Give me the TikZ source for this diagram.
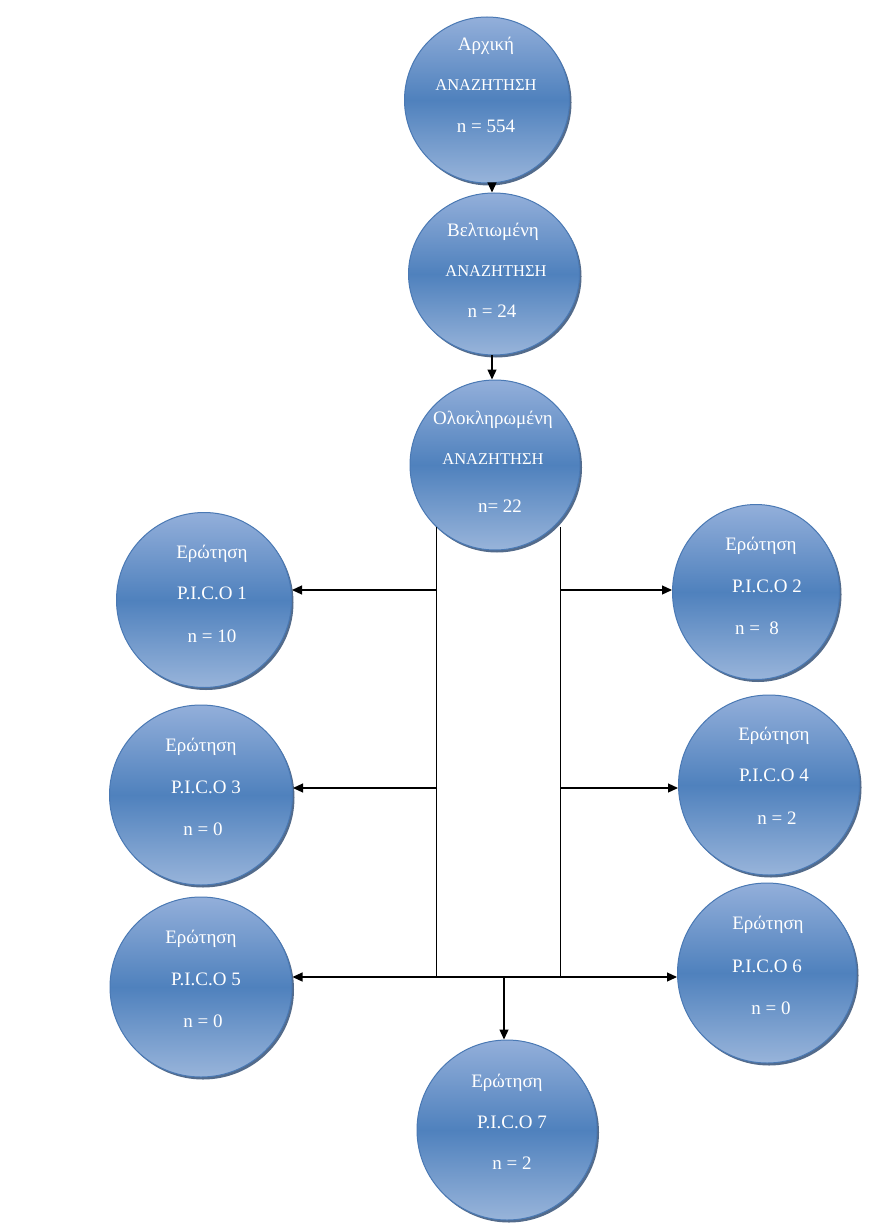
\documentclass[tikz,border=0pt]{standalone}
\usepackage{fontspec}
\setmainfont{Liberation Serif}
\usetikzlibrary{arrows.meta,shapes.geometric,shadows}
\definecolor{cTop}{RGB}{147,175,218}
\definecolor{cMid}{RGB}{79,129,189}
\definecolor{cBot}{RGB}{152,180,218}
\definecolor{cEdge}{RGB}{74,121,180}
\definecolor{cShadow}{RGB}{40,70,110}
\begin{document}
\begin{tikzpicture}[x=1pt,y=-1pt,
 bubble/.style={ellipse, draw=cEdge, line width=1pt, top color=cTop, bottom color=cBot, middle color=cMid, inner sep=0pt,
   drop shadow={shadow xshift=2pt,shadow yshift=-2.5pt,fill=cShadow,opacity=0.8}},
 txt/.style={text=white,font=\fontsize{19}{22}\selectfont, inner sep=0pt, anchor=base},
 caps/.style={text=white,font=\fontsize{16.5}{19}\selectfont, inner sep=0pt, anchor=base},
 arr/.style={line width=1.2pt,-{Triangle[length=10pt,width=9pt]}},
 stem/.style={line width=0.9pt}]
\useasboundingbox (0,0) rectangle (877,1230);
\fill[white] (0,0) rectangle (877,1230);

% bubbles
\node[bubble, minimum width=165pt, minimum height=166pt] (c1) at (487,100) {};
\node[bubble, minimum width=171pt, minimum height=162pt] (c2) at (494,274) {};
\node[bubble, minimum width=170pt, minimum height=170pt] (c3) at (495,465) {};
\node[bubble, minimum width=175pt, minimum height=175pt] (p1) at (204,600) {};
\node[bubble, minimum width=167pt, minimum height=175pt] (p2) at (756,592) {};
\node[bubble, minimum width=183pt, minimum height=180pt] (p3) at (201,795) {};
\node[bubble, minimum width=181pt, minimum height=180pt] (p4) at (769,785) {};
\node[bubble, minimum width=182pt, minimum height=180pt] (p5) at (201,987) {};
\node[bubble, minimum width=179pt, minimum height=180pt] (p6) at (767,973) {};
\node[bubble, minimum width=180pt, minimum height=180pt] (p7) at (507,1130) {};

% texts
\node[txt]  (c1a) at (486,51) {Αρχική};
\node[caps] (c1b) at (486,90.5) {ΑΝΑΖΗΤΗΣΗ};
\node[txt]  (c1c) at (486,133) {n = 554};

\node[txt]  (c2a) at (493,237) {Βελτιωμένη};
\node[caps] (c2b) at (496,276.5) {ΑΝΑΖΗΤΗΣΗ};
\node[txt]  (c2c) at (492,317) {n = 24};

\node[txt]  (c3a) at (493,424) {Ολοκληρωμένη};
\node[caps] (c3b) at (493,464.5) {ΑΝΑΖΗΤΗΣΗ};
\node[txt]  (c3c) at (500,512) {n= 22};

\node[txt] (p1a) at (212,558) {Ερώτηση};
\node[txt] (p1b) at (212,599) {P.I.C.O 1};
\node[txt] (p1c) at (212,642) {n = 10};

\node[txt] (p2a) at (761,550) {Ερώτηση};
\node[txt] (p2b) at (767,592) {P.I.C.O 2};
\node[txt] (p2c) at (757,634) {n =\ \ 8};

\node[txt] (p3a) at (201,751) {Ερώτηση};
\node[txt] (p3b) at (206,793) {P.I.C.O 3};
\node[txt] (p3c) at (203,835) {n = 0};

\node[txt] (p4a) at (774,740) {Ερώτηση};
\node[txt] (p4b) at (774,781) {P.I.C.O 4};
\node[txt] (p4c) at (777,824) {n = 2};

\node[txt] (p5a) at (201,943) {Ερώτηση};
\node[txt] (p5b) at (206,985) {P.I.C.O 5};
\node[txt] (p5c) at (203,1027) {n = 0};

\node[txt] (p6a) at (768,929) {Ερώτηση};
\node[txt] (p6b) at (767,972) {P.I.C.O 6};
\node[txt] (p6c) at (771,1014) {n = 0};

\node[txt] (p7a) at (507,1087) {Ερώτηση};
\node[txt] (p7b) at (512,1128) {P.I.C.O 7};
\node[txt] (p7c) at (512,1169) {n = 2};

% connectors
\coordinate (tl) at (436,527);
\coordinate (tr) at (560,527);
\coordinate (bl) at (436,977);
\coordinate (br) at (560,977);
\coordinate (m)  at (504,977);
\coordinate (h1l) at (437,590);
\coordinate (h1r) at (561,590);
\coordinate (h2l) at (437,788);
\coordinate (h2r) at (561,788);
\coordinate (a1) at (492,183);
\coordinate (a2) at (492,355);

\draw[arr] (a1) -- (a1 |- c2.north);
\draw[arr] (a2) -- (a2 |- c3.north);
\draw[stem] (tl) -- (bl);
\draw[stem] (tr) -- (br);
\draw[arr] (h1l) -- (h1l -| p1.east);
\draw[arr] (h1r) -- (h1r -| p2.west);
\draw[arr] (h2l) -- (h2l -| p3.east);
\draw[arr] (h2r) -- (h2r -| p4.west);
\draw[line width=1.2pt] (bl) -- (br);
\draw[arr] (bl) -- (bl -| p5.east);
\draw[arr] (br) -- (br -| p6.west);
\draw[arr] (m) -- (m |- p7.north);
\end{tikzpicture}
\end{document}
